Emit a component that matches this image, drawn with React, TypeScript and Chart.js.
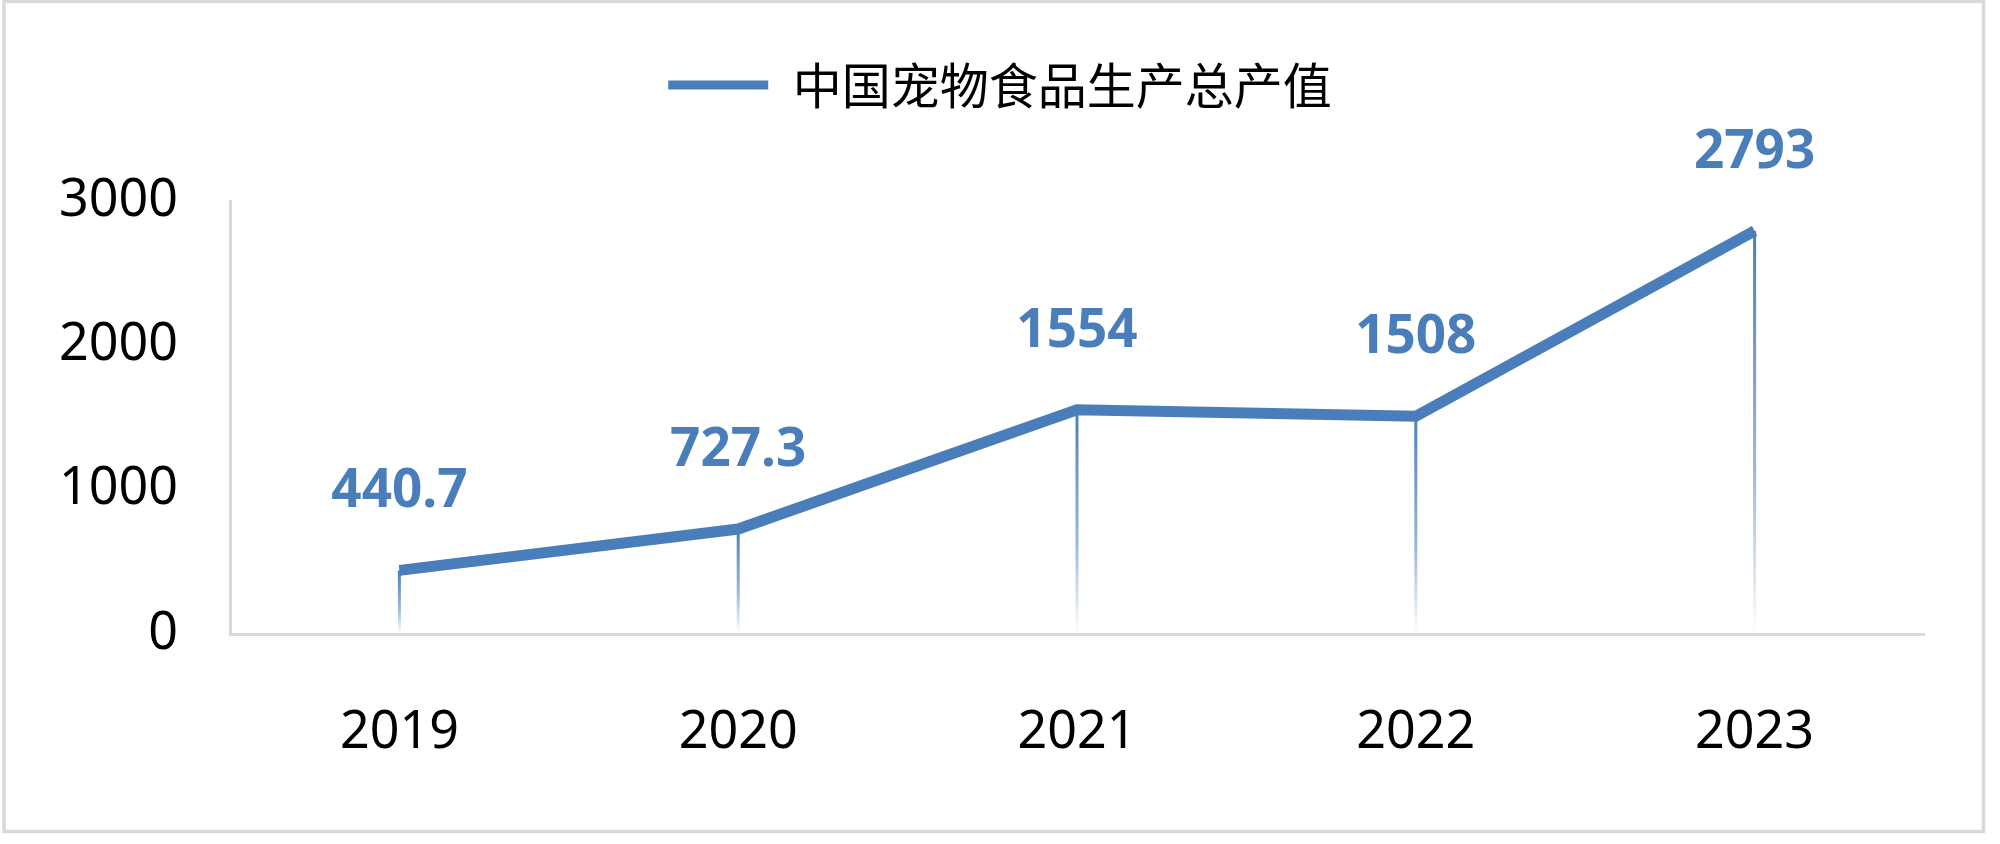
import React, { useEffect, useRef } from "react";
import { Chart, registerables } from "chart.js";

Chart.register(...registerables);

const years: string[] = ["2019", "2020", "2021", "2022", "2023"];
const values: number[] = [440.7, 727.3, 1554, 1508, 2793];
const valueLabels: string[] = ["440.7", "727.3", "1554", "1508", "2793"];
const seriesName = "中国宠物食品生产总产值";
const yTicks: number[] = [0, 1000, 2000, 3000];

const BLUE = "#4a7ebb";
const GRAY = "#d9d9d9";
const LATIN = '"Noto Sans", "Open Sans", sans-serif';
const CJK = '"Noto Sans CJK SC", "Noto Sans", sans-serif';

const framePlugin = {
  id: "frame",
  beforeDraw(chart: any) {
    const ctx = chart.ctx;
    ctx.save();
    ctx.fillStyle = "#ffffff";
    ctx.fillRect(0, 0, chart.width, chart.height);
    ctx.strokeStyle = GRAY;
    ctx.lineWidth = 3.5;
    ctx.strokeRect(4, 1.5, 1979.5, 830);
    ctx.restore();
  },
};

const dropLinePlugin = {
  id: "dropLines",
  beforeDatasetsDraw(chart: any) {
    const ctx = chart.ctx;
    const meta = chart.getDatasetMeta(0);
    const bottom = chart.scales.y.getPixelForValue(yTicks[0]);
    ctx.save();
    meta.data.forEach((pt: any) => {
      const g = ctx.createLinearGradient(0, pt.y, 0, bottom);
      g.addColorStop(0, "rgba(74,126,187,1)");
      g.addColorStop(0.6, "rgba(74,126,187,0.55)");
      g.addColorStop(1, "rgba(74,126,187,0)");
      ctx.strokeStyle = g;
      ctx.lineWidth = 3;
      ctx.beginPath();
      ctx.moveTo(pt.x, pt.y);
      ctx.lineTo(pt.x, bottom);
      ctx.stroke();
    });
    ctx.restore();
  },
};

const valueLabelPlugin = {
  id: "valueLabels",
  afterDatasetsDraw(chart: any) {
    const ctx = chart.ctx;
    const meta = chart.getDatasetMeta(0);
    ctx.save();
    ctx.font = `bold 53px ${LATIN}`;
    ctx.fillStyle = BLUE;
    ctx.textAlign = "center";
    ctx.textBaseline = "middle";
    meta.data.forEach((pt: any, i: number) => {
      ctx.fillText(valueLabels[i], pt.x, pt.y - 78);
    });
    ctx.restore();
  },
};

export default function App() {
  const canvasRef = useRef<HTMLCanvasElement | null>(null);

  useEffect(() => {
    if (!canvasRef.current) return;
    const chart = new Chart(canvasRef.current, {
      type: "line",
      data: {
        labels: years,
        datasets: [
          {
            label: seriesName,
            data: values,
            borderColor: BLUE,
            backgroundColor: BLUE,
            borderWidth: 11,
            borderCapStyle: "butt",
            borderJoinStyle: "miter",
            pointRadius: 0,
            pointHoverRadius: 0,
            tension: 0,
            fill: false,
            clip: false as any,
          },
        ],
      },
      options: {
        responsive: false,
        maintainAspectRatio: false,
        animation: false,
        devicePixelRatio: 1,
        layout: { padding: { top: 30.5, left: 0, right: 0, bottom: 0 } },
        plugins: {
          tooltip: { enabled: false },
          title: {
            display: true,
            text: " ",
            position: "top",
            weight: 500,
            font: { size: 10, lineHeight: 1 },
            padding: { top: 71.5, bottom: 0 },
          },
          legend: {
            display: true,
            position: "top",
            align: "center",
            weight: 1000,
            labels: {
              boxWidth: 100,
              boxHeight: 9,
              padding: 30,
              color: "#000000",
              font: { family: CJK, size: 49 },
              generateLabels: (chart: any) =>
                chart.data.datasets.map((ds: any, i: number) => ({
                  text: ds.label,
                  fillStyle: BLUE,
                  strokeStyle: BLUE,
                  lineWidth: 0,
                  hidden: false,
                  datasetIndex: i,
                  fontColor: "#000000",
                })),
            },
          } as any,
        },
        scales: {
          x: {
            type: "category",
            offset: true,
            grid: { display: false, drawTicks: false },
            border: { display: true, color: GRAY, width: 3 },
            ticks: {
              color: "#000000",
              font: { family: LATIN, size: 52 },
              padding: 68,
              maxRotation: 0,
              autoSkip: false,
            },
            afterFit: (scale: any) => {
              scale.height = 210;
            },
          },
          y: {
            type: "linear",
            position: "left",
            min: yTicks[0],
            max: yTicks[yTicks.length - 1],
            grid: { display: false, drawTicks: false },
            border: { display: true, color: GRAY, width: 3 },
            ticks: {
              stepSize: yTicks[1] - yTicks[0],
              color: "#000000",
              font: { family: LATIN, size: 52 },
              padding: 52,
              callback: (v: any) => String(v),
            },
            afterFit: (scale: any) => {
              scale.width = 230;
            },
          },
          yRight: {
            type: "linear",
            position: "right",
            display: true,
            min: yTicks[0],
            max: yTicks[yTicks.length - 1],
            grid: { display: false, drawTicks: false },
            border: { display: false },
            ticks: { display: false },
            afterFit: (scale: any) => {
              scale.width = 76;
            },
          },
        },
      },
      plugins: [framePlugin, dropLinePlugin, valueLabelPlugin],
    });
    return () => chart.destroy();
  }, []);

  return (
    <div style={{ position: "absolute", left: 0, top: 0, width: 2000, height: 844, background: "#fff" }}>
      <canvas ref={canvasRef} width={2000} height={844} style={{ width: 2000, height: 844, display: "block" }} />
    </div>
  );
}
